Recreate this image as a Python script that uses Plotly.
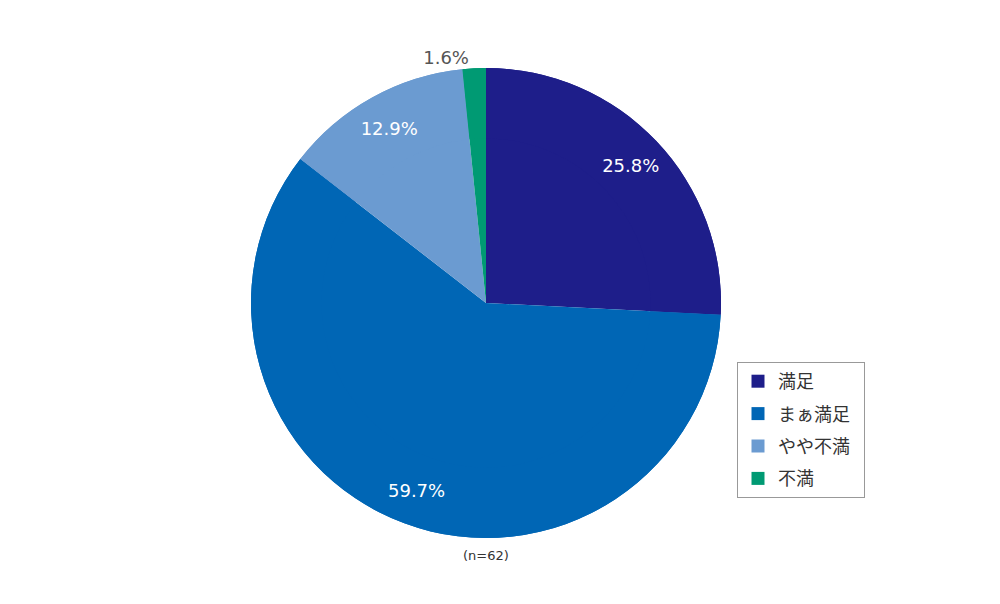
import plotly.graph_objects as go

labels = ["満足", "まぁ満足", "やや不満", "不満"]
values = [25.8, 59.7, 12.9, 1.6]
colors = ["#1e1e8a", "#0066b5", "#6b9bd1", "#009a73"]
text_pos = ["inside", "inside", "inside", "outside"]
text_col = ["white", "white", "white", "#555555"]

# ページ余白(8px)分ずらす
off = 8
dom = dict(x=[(251 - off) / 1000, (721 - off) / 1000],
           y=[1 - (538 - off) / 604, 1 - (68 - off) / 604])

fig = go.Figure()

# 下の円（塗り）
fig.add_trace(go.Pie(
    labels=labels, values=values, sort=False,
    direction="clockwise", rotation=0,
    marker=dict(colors=colors, line=dict(width=0)),
    textinfo="none", hoverinfo="skip",
    showlegend=False,
    domain=dom,
))

# 上のドーナツ（ラベルを外寄りに置くため）
fig.add_trace(go.Pie(
    labels=labels, values=values, sort=False,
    direction="clockwise", rotation=0, hole=0.7,
    marker=dict(colors=colors, line=dict(width=0)),
    texttemplate="%{value:.1f}%",
    textposition=text_pos,
    textfont=dict(size=18, color=text_col, family="DejaVu Sans"),
    insidetextorientation="horizontal",
    showlegend=False,
    domain=dom,
))

# 凡例用のダミー
for lab, col in zip(labels, colors):
    fig.add_trace(go.Scatter(
        x=[None], y=[None], mode="markers", name=lab + "\u00a0\u00a0",
        legendgroup=lab,
        marker=dict(symbol="square", size=13, color=col),
    ))

fig.update_layout(
    width=1000, height=604,
    margin=dict(l=0, r=0, t=0, b=0),
    paper_bgcolor="white",
    plot_bgcolor="white",
    xaxis=dict(visible=False),
    yaxis=dict(visible=False),
    font=dict(family="Noto Sans CJK JP", size=15, color="#333333"),
    legend=dict(
        x=(737 - off) / 1000, y=1 - (362 - off) / 604,
        xanchor="left", yanchor="top",
        bordercolor="#999999", borderwidth=1,
        font=dict(size=18),
        tracegroupgap=6,
    ),
    annotations=[dict(
        text="(n=62)", x=(486 - off) / 1000, y=1 - (555 - off) / 604,
        xref="paper", yref="paper", showarrow=False, yanchor="middle",
        font=dict(size=13, color="#333333", family="DejaVu Sans"),
    )],
)

fig.write_html("out.html")
